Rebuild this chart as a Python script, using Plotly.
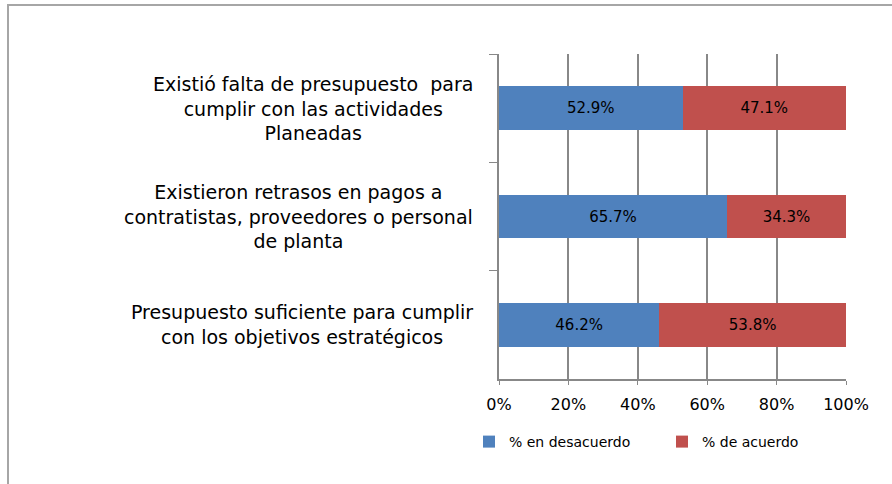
import plotly.graph_objects as go

categories = [
    "Existió falta de presupuesto  para<br>cumplir con las actividades<br>Planeadas",
    "Existieron retrasos en pagos a<br>contratistas, proveedores o personal<br>de planta",
    "Presupuesto suficiente para cumplir<br>con los objetivos estratégicos",
]
desacuerdo = [52.9, 65.7, 46.2]
acuerdo = [47.1, 34.3, 53.8]
series_names = ["% en desacuerdo", "% de acuerdo"]
x_ticks = [0, 20, 40, 60, 80, 100]
x_tick_labels = ["0%", "20%", "40%", "60%", "80%", "100%"]

W, H = 892, 484
L, R, T, B = 499, 46, 54, 105
pw, ph = W - L - R, H - T - B

fig = go.Figure()
fig.add_trace(go.Bar(
    y=categories, x=desacuerdo, orientation="h", name=series_names[0],
    marker=dict(color="#4F81BD", line=dict(width=0)),
    texttemplate="%{x:.1f}%", textposition="inside", insidetextanchor="middle",
    textfont=dict(family="DejaVu Sans", size=15, color="#000000"),
))
fig.add_trace(go.Bar(
    y=categories, x=acuerdo, orientation="h", name=series_names[1],
    marker=dict(color="#C0504D", line=dict(width=0)),
    texttemplate="%{x:.1f}%", textposition="inside", insidetextanchor="middle",
    textfont=dict(family="DejaVu Sans", size=15, color="#000000"),
))

for c in categories:
    fig.add_annotation(
        x=(475 - L) / pw, xref="paper", y=c, yref="y",
        text=c, showarrow=False, xanchor="right", yanchor="middle",
        align="center", font=dict(family="DejaVu Sans", size=19, color="#000000"),
    )

# outer chart border
fig.add_shape(type="rect", xref="paper", yref="paper",
              x0=(8 - L) / pw, x1=(W + 20 - L) / pw,
              y0=(T + ph - (H + 20)) / ph, y1=(T + ph - 5) / ph,
              line=dict(color="#A6A6A6", width=2), fillcolor="rgba(0,0,0,0)", layer="below")

fig.update_layout(
    width=W, height=H,
    margin=dict(l=L, r=R, t=T, b=B),
    barmode="stack", bargap=0.595,
    plot_bgcolor="white", paper_bgcolor="white",
    showlegend=True,
    legend=dict(orientation="h", x=(469 - L) / pw, xanchor="left",
                y=-(442 - (T + ph)) / ph, yanchor="middle",
                font=dict(family="DejaVu Sans", size=14, color="#000000"),
                traceorder="normal", entrywidth=148),
    xaxis=dict(range=[0, 100], tickvals=x_ticks, ticktext=x_tick_labels,
               showgrid=True, gridcolor="#888888", gridwidth=1.5,
               showline=True, linecolor="#888888", linewidth=1.5,
               ticks="outside", ticklen=4, tickcolor="#888888",
               ticklabelstandoff=6,
               tickfont=dict(family="DejaVu Sans", size=16, color="#000000"),
               zeroline=False, fixedrange=True),
    yaxis=dict(autorange="reversed", showticklabels=False,
               showline=True, linecolor="#888888", linewidth=1.5,
               ticks="outside", ticklen=8, tickcolor="#888888", tickson="boundaries",
               showgrid=False, fixedrange=True),
)

fig.write_html("out.html", config={"displayModeBar": False},
               post_script="document.body.style.margin='0';")
